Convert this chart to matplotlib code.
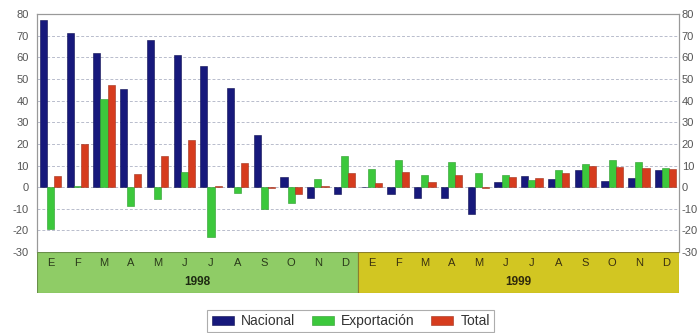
import numpy as np
import matplotlib.pyplot as plt
from matplotlib.patches import Rectangle

plt.rcParams['font.family'] = ['Liberation Sans Narrow', 'Liberation Sans', 'DejaVu Sans']
plt.rcParams['axes.unicode_minus'] = False

meses = ['E', 'F', 'M', 'A', 'M', 'J', 'J', 'A', 'S', 'O', 'N', 'D']
anios = ['1998', '1999']

# variacion mensual (%) 1998 + 1999
nacional = [77, 71, 62, 45.5, 68, 61, 56, 46, 24, 4.9, -4.8, -3.2,
            0.2, -3.1, -5.1, -4.8, -12.5, 2.6, 5.2, 3.9, 7.9, 2.9, 4.1, 7.9]
exportacion = [-19.5, 0.3, 40.5, -8.5, -5.4, 7.2, -23, -2.6, -10.2, -7.1, 3.7, 14.2,
               8.6, 12.6, 5.7, 11.7, 6.7, 5.6, 3.5, 7.7, 10.8, 12.6, 11.8, 8.8]
total = [5.2, 20, 47, 6.2, 14.2, 21.7, 0.3, 11, -0.5, -3.1, 0.5, 6.6,
         2, 6.8, 2.2, 5.5, -0.6, 4.7, 4.4, 6.4, 9.8, 9.1, 8.9, 8.5]

c_nac = '#17197c'
c_exp = '#3cc83c'
c_tot = '#d63c1e'

fig = plt.figure(figsize=(7, 3.33), dpi=100)
ax = fig.add_axes([0.053, 0.243, 0.917, 0.715])

n = len(nacional)
x = np.arange(n)
w = 0.8 / 3
ax.bar(x - w, nacional, w, color=c_nac, edgecolor='#0c0d50', linewidth=0.4, label='Nacional', zorder=3)
ax.bar(x, exportacion, w, color=c_exp, edgecolor='#2a9a2a', linewidth=0.4, label='Exportación', zorder=3)
ax.bar(x + w, total, w, color=c_tot, edgecolor='#a0301a', linewidth=0.4, label='Total', zorder=3)

ax.set_xlim(-0.5, n - 0.5)
ax.set_ylim(-30, 80)
ax.set_yticks(range(-30, 81, 10))
ax.yaxis.grid(True, linestyle=(0, (3, 2)), color='#b8bccc', linewidth=0.7, zorder=0)
ax.set_xticks([])
ax.tick_params(axis='y', length=0, labelsize=8, labelcolor='#555555', pad=6)

# misma escala repetida a la derecha
ax2 = ax.twinx()
ax2.set_ylim(ax.get_ylim())
ax2.set_yticks(range(-30, 81, 10))
ax2.tick_params(axis='y', length=0, labelsize=8, labelcolor='#555555', pad=2)

for a in (ax, ax2):
    for side in ['left', 'right', 'top']:
        a.spines[side].set_color('#999999')
        a.spines[side].set_linewidth(0.8)
    a.spines['bottom'].set_visible(False)

# franja de meses y anios
band = fig.add_axes([0.053, 0.12, 0.917, 0.123])
band.set_xlim(-0.5, n - 0.5)
band.set_ylim(0, 1)
band.add_patch(Rectangle((-0.5, 0), 12, 1, facecolor='#8fcc66', edgecolor='#6a8f4a', linewidth=0.8))
band.add_patch(Rectangle((11.5, 0), 12, 1, facecolor='#d2c622', edgecolor='#8c7f2a', linewidth=0.8))
for i in range(n):
    band.text(x[i], 0.74, meses[i % 12], ha='center', va='center', fontsize=8,
              color='#2a3a1a' if i < 12 else '#3a3010')
for k, a in enumerate(anios):
    band.text(5.5 + 12 * k, 0.27, a, ha='center', va='center', fontsize=8.5,
              fontweight='bold', color='#1e2a12' if k == 0 else '#302a0c')
band.axis('off')

handles, labels = ax.get_legend_handles_labels()
leg = fig.legend(handles, labels, loc='center', bbox_to_anchor=(0.501, 0.036), ncol=3,
                 frameon=True, fancybox=False, fontsize=10, handlelength=1.6, handleheight=0.6,
                 columnspacing=1.2, handletextpad=0.5, borderpad=0.3)
leg.get_frame().set_edgecolor('#999999')
leg.get_frame().set_linewidth(0.8)
for t in leg.get_texts():
    t.set_color('#333333')

fig.savefig('out.png', dpi=100)
